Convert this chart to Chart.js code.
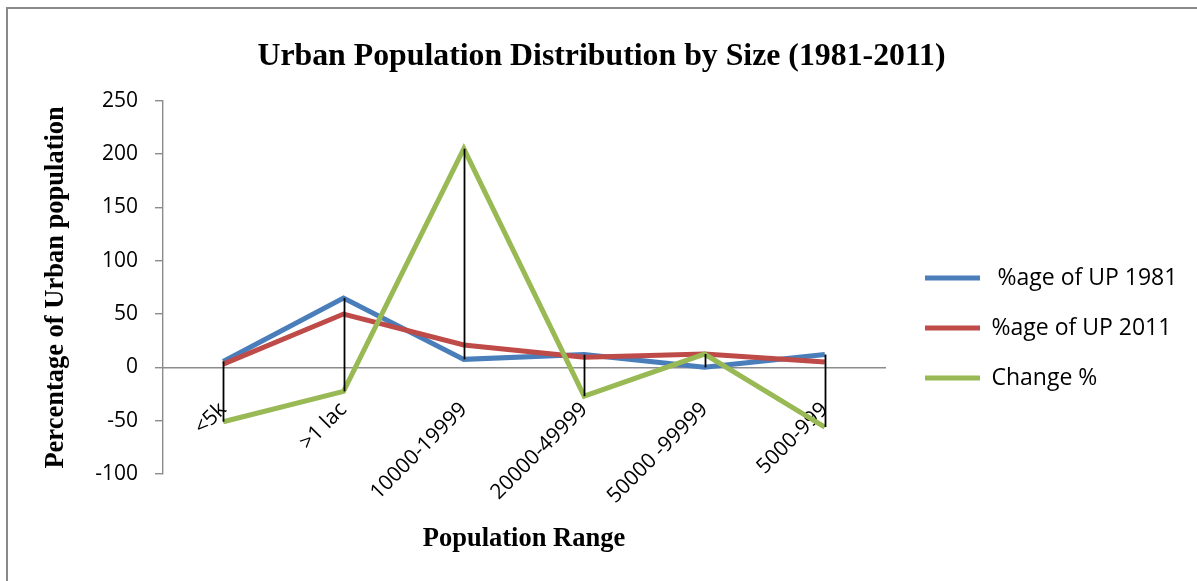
<!DOCTYPE html>
<html>
<head>
<meta charset="utf-8">
<script src="https://cdn.jsdelivr.net/npm/chart.js@4.4.0/dist/chart.umd.min.js"></script>
<style>
html,body{margin:0;padding:0;background:#fff;}
#wrap{position:relative;width:1197px;height:581px;overflow:hidden;}
#frame{position:absolute;left:6px;top:7px;right:-4px;bottom:-4px;border-left:2px solid #8a8a8a;border-top:2px solid #8a8a8a;}
canvas{position:absolute;left:0;top:0;}
</style>
</head>
<body>
<div id="wrap"><div id="frame"></div><canvas id="c" width="1197" height="581"></canvas></div>
<script>
// ---- data ----
const categories = ['<5k', '>1 lac', '10000-19999', '20000-49999', '50000 -99999', '5000-999'];
const seriesNames = [' %age of UP 1981', '%age of UP 2011', 'Change %'];
const up1981 = [5.5, 65, 7.5, 12, 0, 12];
const up2011 = [3, 50, 21, 9.5, 12.5, 5];
const changePct = [-51, -22.5, 205, -27, 12.5, -56];
const yTickMin = -100;
const yTickMax = 250;
const yTickStep = 50;

const titleText = 'Urban Population Distribution by Size (1981-2011)';
const yTitleText = 'Percentage of Urban population';
const xTitleText = 'Population Range';

const colors = ['#4A7EBB', '#BE4B48', '#98B954'];
const serif = "'Liberation Serif', 'Times New Roman', serif";
const sans = "'Open Sans', sans-serif";

// high-low lines connecting highest and lowest value of each category
const hiLoLines = {
  id: 'hiLoLines',
  afterDatasetsDraw(chart) {
    const xs = chart.scales.x, ys = chart.scales.y, ctx = chart.ctx;
    ctx.save();
    ctx.strokeStyle = '#000';
    ctx.lineWidth = 1.8;
    categories.forEach((c, i) => {
      const vals = chart.data.datasets.map(d => d.data[i]);
      const hi = Math.max(...vals), lo = Math.min(...vals);
      const px = Math.round(xs.getPixelForValue(i)) + 0.5;
      ctx.beginPath();
      ctx.moveTo(px, ys.getPixelForValue(hi));
      ctx.lineTo(px, ys.getPixelForValue(lo));
      ctx.stroke();
    });
    ctx.restore();
  }
};

const seriesData = [up1981, up2011, changePct];
const datasets = seriesData.map((d, k) => ({
  label: seriesNames[k],
  data: d,
  borderColor: colors[k],
  backgroundColor: colors[k],
  borderWidth: 5,
  pointRadius: 0,
  pointHoverRadius: 0,
  pointBorderWidth: 5,
  pointBorderColor: colors[k],
  tension: 0,
  fill: false,
  borderJoinStyle: 'miter',
  order: 2 - k
}));

new Chart(document.getElementById('c'), {
  type: 'line',
  data: { labels: categories, datasets },
  plugins: [hiLoLines],
  options: {
    responsive: false,
    devicePixelRatio: 1,
    animation: false,
    layout: { padding: { left: 20, top: 0, bottom: 0, right: 14 } },
    plugins: {
      tooltip: { enabled: false },
      title: {
        display: true,
        text: titleText,
        color: '#000',
        font: { family: serif, size: 31.8, weight: 'bold' },
        padding: { top: 38, bottom: 24.6 }
      },
      subtitle: {
        display: true,
        text: xTitleText,
        position: 'bottom',
        fullSize: false,
        color: '#000',
        font: { family: serif, size: 26.5, weight: 'bold' },
        padding: { top: 49, bottom: 26.2 }
      },
      legend: {
        position: 'right',
        maxWidth: 285,
        title: { display: true, text: ' ', font: { size: 10 }, padding: { top: 63, bottom: 0 } },
        labels: {
          usePointStyle: true,
          pointStyle: 'line',
          pointStyleWidth: 55,
          padding: 27,
          color: '#000',
          font: { family: sans, size: 23 },
          sort: (a, b) => a.datasetIndex - b.datasetIndex
        }
      }
    },
    scales: {
      x: {
        type: 'category',
        position: { y: 0 },
        offset: true,
        grid: { display: false, drawTicks: false },
        border: { display: true, color: '#8c8c8c', width: 1.6 },
        ticks: {
          autoSkip: false,
          minRotation: 45,
          maxRotation: 45,
          padding: 30,
          color: '#000',
          font: { family: sans, size: 21 }
        }
      },
      y: {
        type: 'linear',
        position: 'left',
        min: yTickMin,
        max: yTickMax,
        afterFit: s => { s.width = 143; },
        grid: { display: true, drawOnChartArea: false, drawTicks: true, tickLength: 8, color: '#8c8c8c', lineWidth: 1.4 },
        border: { display: true, color: '#8c8c8c', width: 1.4 },
        ticks: {
          stepSize: yTickStep,
          padding: 17,
          color: '#000',
          font: { family: sans, size: 21 }
        },
        title: {
          display: true,
          text: yTitleText,
          color: '#000',
          font: { family: serif, size: 26.5, weight: 'bold' },
          padding: { top: 20, bottom: 0 }
        }
      },
      yR: {
        type: 'linear',
        position: 'right',
        display: true,
        min: 0,
        max: 1,
        afterFit: s => { s.width = 13; },
        grid: { display: false },
        border: { display: false },
        ticks: { display: false }
      }
    }
  }
});
</script>
</body>
</html>
